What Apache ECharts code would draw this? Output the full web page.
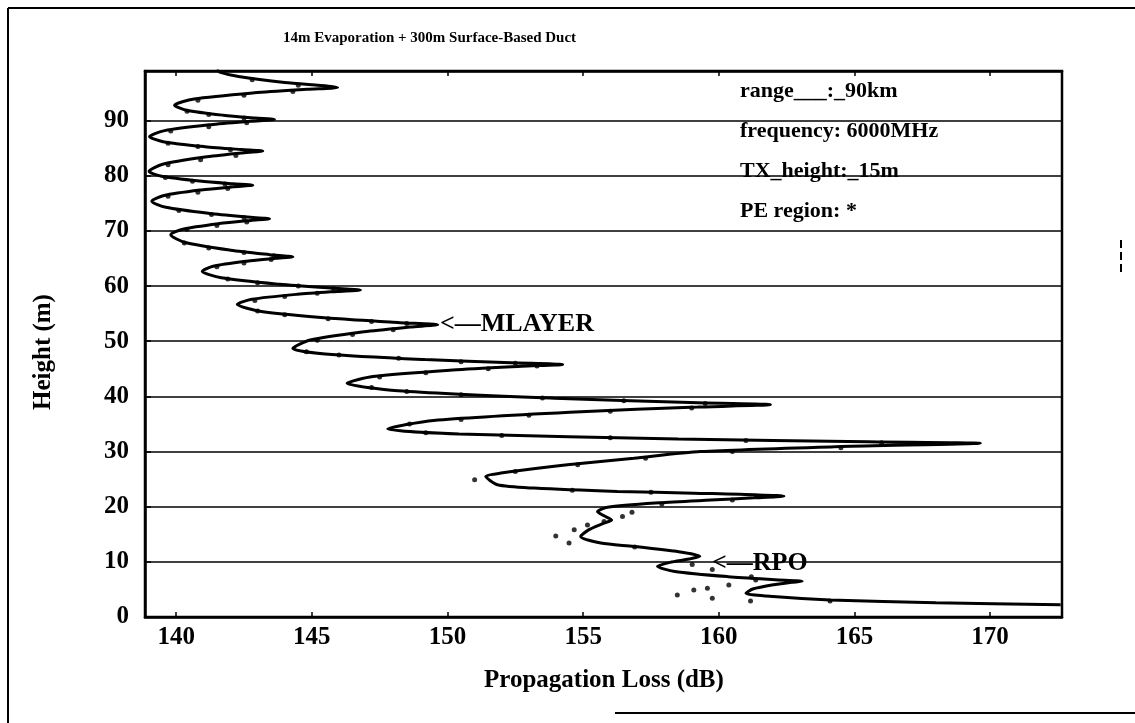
<!DOCTYPE html>
<html>
<head>
<meta charset="utf-8">
<script src="https://cdn.jsdelivr.net/npm/echarts@6/dist/echarts.min.js"></script>
<style>
html, body { margin: 0; padding: 0; background: #fff; }
#chart { width: 1135px; height: 723px; }
</style>
</head>
<body>
<div id="chart"></div>
<script>
// solid curve, ordered by height
var curveLoss = [172.6, 168.0, 164.1, 162.0, 161.0, 161.25, 162.01, 162.68, 163.07, 162.06, 160.35, 158.38, 157.74,
    158.2, 158.9, 159.3, 158.7, 156.87, 155.65, 154.91, 155.2, 155.7, 156.05, 155.75, 155.53,
    155.9, 157.8, 159.7, 161.3, 162.4, 159.08, 156.26, 153.19, 151.84, 151.41,
    151.97, 154.42, 156.87, 159.33, 164.5, 169.64, 165.49, 158.5, 150.42, 147.8,
    149.49, 154.71, 159.22, 161.9, 158.94, 153.94, 148.17, 146.3,
    147.25, 150.19, 152.73, 154.24, 152.35, 149.17, 145.49, 144.3,
    144.94, 146.92, 148.63, 149.64, 148.24, 145.87, 143.14, 142.25,
    142.79, 144.47, 145.93, 146.79, 145.68, 143.82, 141.66, 140.96,
    141.36, 142.6, 143.67, 144.3, 143.45, 142.01, 140.34, 139.8,
    140.24, 141.58, 142.75, 143.44, 142.62, 141.23, 139.62, 139.1,
    139.55, 140.92, 142.11, 142.82, 142.09, 140.87, 139.46, 139.0,
    139.5, 141.05, 142.39, 143.19, 142.4, 141.06, 139.52, 139.02,
    139.57, 141.27, 142.75, 143.62, 142.92, 141.74, 140.38, 139.94,
    140.66, 142.88, 144.81, 145.95, 144.0, 142.3, 141.6, 141.5];
var curveHeight = [2.2, 2.6, 3.1, 3.7, 4.3, 5.07, 5.84, 6.28, 6.5, 6.77, 7.31, 8.26, 9.2,
    9.9, 10.5, 11.0, 11.7, 12.8, 13.4, 14.6, 15.8, 16.9, 17.6, 18.4, 19.1,
    19.9, 20.7, 21.2, 21.6, 21.9, 22.46, 22.77, 23.37, 23.97, 25.5,
    26.09, 27.59, 28.8, 30.0, 30.9, 31.5, 31.76, 32.28, 33.19, 34.1,
    35.64, 37.18, 38.06, 38.5, 38.89, 39.67, 41.04, 42.4,
    43.59, 44.78, 45.46, 45.8, 46.09, 46.67, 47.69, 48.7,
    50.21, 51.71, 52.57, 53.0, 53.37, 54.11, 55.41, 56.7,
    57.61, 58.52, 59.04, 59.3, 59.64, 60.32, 61.51, 62.7,
    63.61, 64.52, 65.04, 65.3, 65.7, 66.5, 67.9, 69.3,
    70.32, 71.33, 71.91, 72.2, 72.52, 73.16, 74.28, 75.4,
    76.42, 77.43, 78.01, 78.3, 78.55, 79.05, 79.93, 80.8,
    82.1, 83.39, 84.13, 84.5, 84.76, 85.28, 86.19, 87.1,
    88.19, 89.27, 89.89, 90.2, 90.46, 90.98, 91.89, 92.8,
    93.92, 95.04, 95.68, 96.0, 96.9, 98.0, 98.8, 99.3];

// PE region dots
var peLoss = [158.47, 159.08, 159.58, 159.76, 160.37, 161.17, 161.36, 164.1,
    159.02, 159.76, 161.2,
    153.99, 154.48, 154.67, 155.16, 155.77, 156.45, 156.8, 156.9, 157.9, 160.5, 157.5, 154.6,
    151.0,
    152.5, 154.8, 157.3, 160.5, 164.5,
    166.0, 161.0, 156.0, 152.0, 149.2,
    148.6, 150.5, 153.0, 156.0, 159.0,
    159.5, 156.5, 153.5, 150.5, 148.5, 147.2,
    147.5, 149.2, 151.5, 153.3,
    152.5, 150.5, 148.2, 146.0, 144.8,
    145.2, 146.5, 148.0,
    148.5, 147.2, 145.6, 144.0, 143.0,
    142.9, 144.0, 145.2,
    145.8, 144.5, 143.0, 141.9,
    141.5, 142.5, 143.5,
    143.6, 142.5, 141.2, 140.3,
    140.4, 141.5, 142.6,
    142.5, 141.3, 140.1,
    139.7, 140.8, 141.9,
    141.8, 140.6, 139.6,
    139.7, 140.9, 142.2,
    142.0, 140.8, 139.7,
    139.8, 141.2, 142.6,
    142.5, 141.2, 140.4,
    140.8, 142.5, 144.3,
    144.5, 142.8];
var peHeight = [4.0, 4.9, 5.2, 3.4, 5.8, 2.9, 6.7, 2.9,
    9.5, 8.6, 7.3,
    14.7, 13.4, 15.8, 16.7, 17.3, 18.2, 19.0, 12.7, 20.5, 21.2, 22.6, 23.0,
    24.9,
    26.4, 27.6, 28.8, 30.0, 30.7,
    31.6, 32.0, 32.5, 32.9, 33.4,
    35.0, 35.8, 36.6, 37.3, 37.9,
    38.7, 39.2, 39.7, 40.3, 40.9, 41.6,
    43.5, 44.3, 45.0, 45.5,
    46.0, 46.3, 46.9, 47.5, 48.1,
    50.2, 51.2, 52.1,
    53.2, 53.6, 54.1, 54.8, 55.5,
    57.4, 58.1, 58.7,
    59.5, 60.0, 60.6, 61.3,
    63.5, 64.2, 64.8,
    65.5, 66.1, 66.9, 67.8,
    70.3, 71.0, 71.6,
    72.4, 73.0, 73.7,
    76.3, 77.0, 77.7,
    78.5, 79.0, 79.7,
    82.0, 82.9, 83.7,
    84.7, 85.3, 85.9,
    88.1, 88.9, 89.6,
    90.5, 91.1, 91.7,
    93.7, 94.6, 95.3,
    96.4, 97.4];

var lossTicks = [140, 145, 150, 155, 160, 165, 170];
var heightTicks = [0, 10, 20, 30, 40, 50, 60, 70, 80, 90];

var infoLines = ['range___:_90km', 'frequency: 6000MHz', 'TX_height:_15m', 'PE region: *'];

var FONT = '"Liberation Serif", "DejaVu Serif", serif';

var chart = echarts.init(document.getElementById('chart'));

var curveData = curveLoss.map(function (v, i) { return [v, curveHeight[i]]; });
var peData = peLoss.map(function (v, i) { return [v, peHeight[i]]; });

var infoText = infoLines.map(function (t, i) {
    return {
        type: 'text', left: 740, top: 80 + i * 40,
        style: { text: t, font: 'bold 22px ' + FONT, fill: '#000' }
    };
});

chart.setOption({
    animation: false,
    backgroundColor: '#fff',
    grid: { left: 145, right: 73, top: 71, bottom: 106, show: true, borderColor: '#000', borderWidth: 2.5 },
    xAxis: [{
        type: 'value', min: 138.85, max: 172.65, splitNumber: 6,
        axisLine: { show: true, lineStyle: { color: '#000', width: 2.5 } },
        axisTick: { inside: true, length: 5, lineStyle: { color: '#000', width: 1.5 } },
        axisLabel: {
            color: '#000', fontFamily: FONT, fontWeight: 'bold', fontSize: 25, margin: 8,
            formatter: function (v) { return lossTicks.indexOf(v) >= 0 ? String(v) : ''; }
        },
        splitLine: { show: false }
    }, {
        type: 'value', position: 'top', min: 138.85, max: 172.65, splitNumber: 6,
        axisLine: { show: true, lineStyle: { color: '#000', width: 2.5 } },
        axisTick: { inside: true, length: 5, lineStyle: { color: '#000', width: 1.5 } },
        axisLabel: { show: false },
        splitLine: { show: false }
    }],
    yAxis: {
        type: 'value', min: 0, max: 99, interval: 10,
        axisLine: { show: true, lineStyle: { color: '#000', width: 2.5 } },
        axisTick: { inside: true, length: 6, lineStyle: { color: '#000', width: 1.5 } },
        axisLabel: {
            color: '#000', fontFamily: FONT, fontWeight: 'bold', fontSize: 25, margin: 16,
            formatter: function (v) { return heightTicks.indexOf(v) >= 0 ? String(v) : ''; }
        },
        splitLine: { show: true, lineStyle: { color: '#000', width: 1.6 } }
    },
    series: [{
        type: 'line', name: 'curve', data: curveData, smooth: 0.25,
        showSymbol: false, lineStyle: { color: '#000', width: 3 }
    }, {
        type: 'scatter', name: 'PE region', data: peData,
        symbolSize: 5, itemStyle: { color: '#000' }
    }],
    graphic: [
        { type: 'text', left: 283, top: 31, style: { text: '14m Evaporation + 300m Surface-Based Duct', font: 'bold 15px ' + FONT, fill: '#000' } },
        { type: 'text', left: 484, top: 668, style: { text: 'Propagation Loss (dB)', font: 'bold 25px ' + FONT, fill: '#000' } },
        { type: 'text', x: 31, y: 410, rotation: Math.PI / 2, style: { text: 'Height (m)', font: 'bold 25px ' + FONT, fill: '#000' } },
        { type: 'text', left: 440, top: 311, style: { text: '<\u2014MLAYER', font: 'bold 26px ' + FONT, fill: '#000' } },
        { type: 'text', left: 712, top: 550, style: { text: '<\u2014RPO', font: 'bold 26px ' + FONT, fill: '#000' } },
        { type: 'line', shape: { x1: 8, y1: 8, x2: 1135, y2: 8 }, style: { stroke: '#000', lineWidth: 2 } },
        { type: 'line', shape: { x1: 8, y1: 8, x2: 8, y2: 723 }, style: { stroke: '#000', lineWidth: 2 } },
        { type: 'line', shape: { x1: 615, y1: 713, x2: 1135, y2: 713 }, style: { stroke: '#000', lineWidth: 2 } },
        { type: 'line', shape: { x1: 1121, y1: 240, x2: 1121, y2: 276 }, style: { stroke: '#000', lineWidth: 2, lineDash: [8, 4] } }
    ].concat(infoText)
});
</script>
</body>
</html>
